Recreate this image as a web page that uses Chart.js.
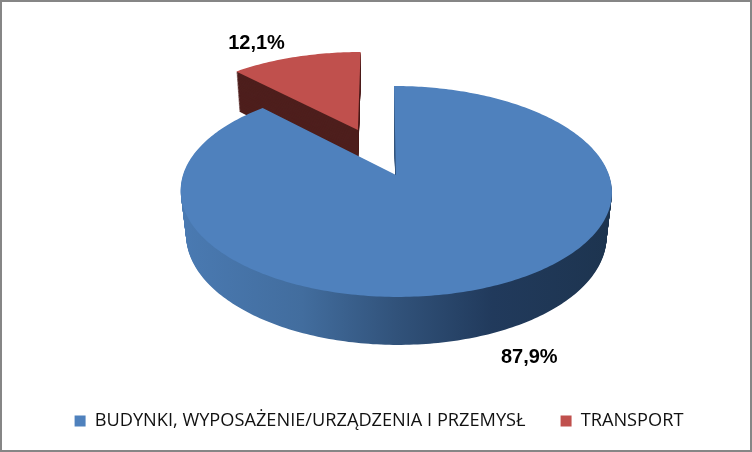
<!DOCTYPE html>
<html>
<head>
<meta charset="utf-8">
<script src="https://cdn.jsdelivr.net/npm/chart.js@4"></script>
<style>
  body { margin: 0; background: #fff; }
</style>
</head>
<body>
<canvas id="canvas" width="752" height="452"></canvas>
<script>
const categories = ["BUDYNKI, WYPOSAŻENIE/URZĄDZENIA I PRZEMYSŁ", "TRANSPORT"];
const shares = [87.9, 12.1];
const sliceColors = ["#4f81bd", "#c0504d"];
const valueLabels = ["87,9%", "12,1%"];

// exploded slices, in radii of the pie
const explode = [0, 0.505];
// where the label goes relative to the middle of the rim
const labelShift = [[39, 71], [-39, -13]];
// x the bottom face shrinks towards, per slice
const shrinkX = [397, 352];

// tilted pie: perspective look from above, near side is bigger
const view = { x: 396, y: 175, a: 213, b: 102.9, k: 0.156, skew: 2 };

function project(u, v, t, i) {
    const w = 1 - view.k * v;
    let x = view.x + view.a * u / w + view.skew * v;
    let y = view.y + view.b * v / w;
    // t goes 0 (top face) to 1 (bottom face)
    const depth = 40 + (y - 72) / 225 * 8;
    return [shrinkX[i] + (x - shrinkX[i]) * (1 - 0.025 * t), y + depth * t];
}

// wraps the canvas context so the arc element path goes through project()
function tiltedContext(ctx, arc, i, t, fill) {
    const mid = (arc.startAngle + arc.endAngle) / 2;
    const toView = (px, py) => project(
        (px - arc.x) / arc.outerRadius + Math.cos(mid) * explode[i],
        (py - arc.y) / arc.outerRadius + Math.sin(mid) * explode[i],
        t, i
    );
    const lineTo = (px, py) => {
        const p = toView(px, py);
        ctx.lineTo(p[0], p[1]);
    };
    const own = {
        lineTo: lineTo,
        moveTo: lineTo,
        arc(cx, cy, r, from, to, ccw) {
            if (!(r > 0)) {
                lineTo(cx, cy);
                return;
            }
            let sweep = to - from;
            if (ccw && sweep > 0) sweep -= Math.PI * 2;
            if (!ccw && sweep < 0) sweep += Math.PI * 2;
            const n = Math.ceil(Math.abs(sweep) * 60);
            for (let s = 0; s <= n; s++) {
                const a = from + sweep * s / n;
                lineTo(cx + r * Math.cos(a), cy + r * Math.sin(a));
            }
        }
    };
    return new Proxy(ctx, {
        get(target, prop) {
            if (own[prop]) return own[prop];
            const value = target[prop];
            return typeof value === "function" ? value.bind(target) : value;
        },
        set(target, prop, value) {
            target[prop] = prop === "fillStyle" && fill ? fill : value;
            return true;
        }
    });
}

const tiltedPie = {
    id: "tiltedPie",
    beforeDraw(chart) {
        const ctx = chart.ctx;
        ctx.save();
        ctx.fillStyle = "#868686";
        ctx.fillRect(0, 0, 752, 452);
        ctx.fillStyle = "#fff";
        ctx.fillRect(2, 2, 748, 448);
        ctx.restore();
    },
    beforeDatasetsDraw(chart) {
        const ctx = chart.ctx;
        const arcs = chart.getDatasetMeta(0).data;

        const blueSide = ctx.createLinearGradient(181, 0, 613, 0);
        blueSide.addColorStop(0, "#4a7ab2");
        blueSide.addColorStop(0.28, "#426d9e");
        blueSide.addColorStop(0.5, "#31527a");
        blueSide.addColorStop(0.72, "#213a5c");
        blueSide.addColorStop(1, "#1d344f");
        const sides = [blueSide, "#4e1f1d"];

        // back slice first, the big one covers it
        [1, 0].forEach(i => {
            const arc = arcs[i];
            for (let t = 1; t > 0; t -= 0.02) {
                arc.draw(tiltedContext(ctx, arc, i, t, sides[i]));
            }
            arc.draw(tiltedContext(ctx, arc, i, 0));
        });

        ctx.save();
        ctx.fillStyle = "#000";
        ctx.font = "bold 20px 'Liberation Sans'";
        ctx.textAlign = "center";
        ctx.textBaseline = "middle";
        arcs.forEach((arc, i) => {
            const mid = (arc.startAngle + arc.endAngle) / 2;
            const rim = project(
                Math.cos(mid) * (1 + explode[i]),
                Math.sin(mid) * (1 + explode[i]),
                0, i
            );
            ctx.fillText(valueLabels[i], rim[0] + labelShift[i][0], rim[1] + labelShift[i][1]);
        });
        ctx.restore();
        return false;
    }
};

new Chart(document.getElementById("canvas"), {
    type: "pie",
    data: {
        labels: categories,
        datasets: [{
            data: shares,
            backgroundColor: sliceColors,
            borderWidth: 0
        }]
    },
    options: {
        responsive: false,
        animation: false,
        layout: { padding: { bottom: 12, left: 6 } },
        plugins: {
            tooltip: { enabled: false },
            legend: {
                position: "bottom",
                labels: {
                    boxWidth: 11,
                    boxHeight: 11,
                    padding: 35,
                    color: "#111",
                    font: { family: "'Open Sans'", size: 18.2 }
                }
            }
        }
    },
    plugins: [tiltedPie]
});
</script>
</body>
</html>
